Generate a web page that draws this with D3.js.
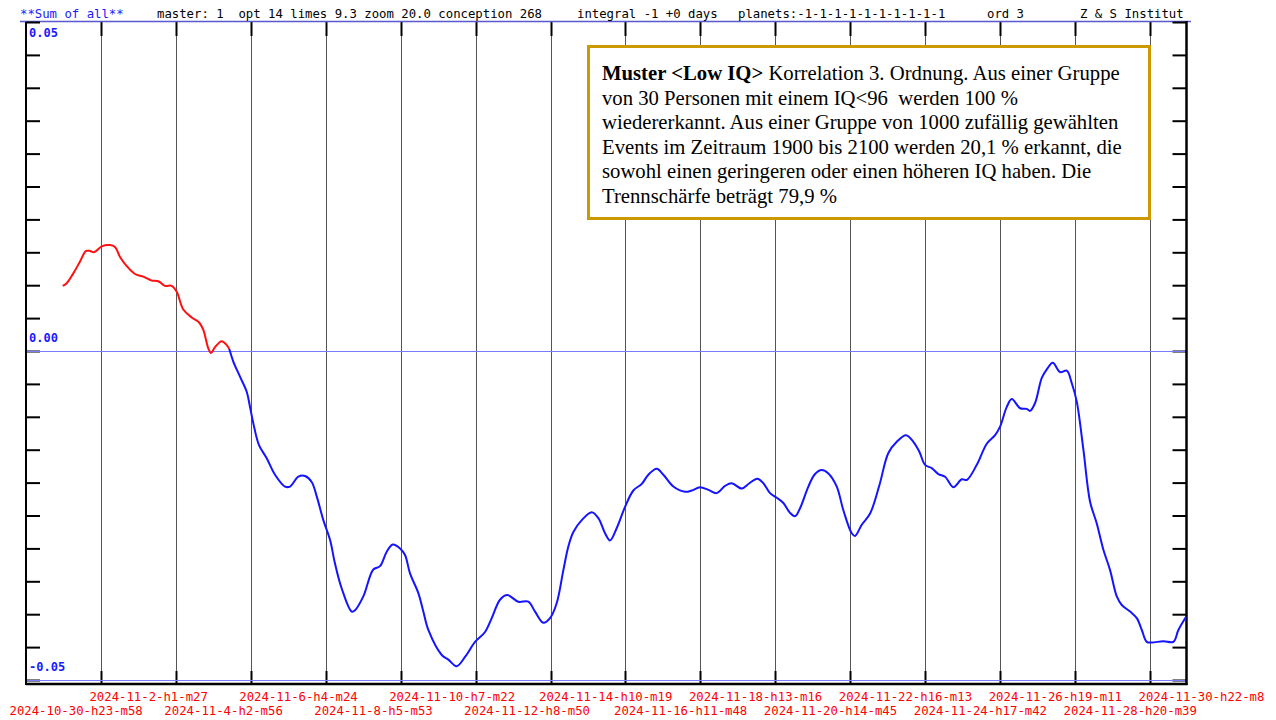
<!DOCTYPE html>
<html>
<head>
<meta charset="utf-8">
<script src="https://cdn.jsdelivr.net/npm/d3@7"></script>
<style>
  html, body { margin: 0; padding: 0; background: #fff; }
  svg { display: block; }
  .mono { font-family: "DejaVu Sans Mono", "Liberation Mono", monospace; white-space: pre; }
</style>
</head>
<body>
<svg id="chart" width="1276" height="720"></svg>
<script>
// time axis: days since 2024-10-30 23:58, one grid step = 49h29m
const stepDays = 2969 / 1440;
const tickLabels = [
  "2024-10-30-h23-m58", "2024-11-2-h1-m27", "2024-11-4-h2-m56", "2024-11-6-h4-m24",
  "2024-11-8-h5-m53", "2024-11-10-h7-m22", "2024-11-12-h8-m50", "2024-11-14-h10-m19",
  "2024-11-16-h11-m48", "2024-11-18-h13-m16", "2024-11-20-h14-m45", "2024-11-22-h16-m13",
  "2024-11-24-h17-m42", "2024-11-26-h19-m11", "2024-11-28-h20-m39", "2024-11-30-h22-m8"
];
const yLabelValues = [0.05, 0, -0.05];
const yLabelTexts  = ["0.05", "0.00", "-0.05"];

// red part of the curve (days, value)
const redDays = [1.010, 1.120, 1.302, 1.486, 1.651, 1.761, 1.871, 2.083, 2.311, 2.449,
  2.587, 2.771, 2.999, 3.228, 3.459, 3.640, 3.825, 4.009, 4.147, 4.328,
  4.559, 4.769, 4.879, 5.016, 5.090, 5.201, 5.385, 5.523, 5.594];
const redVals = [0.0099, 0.0103, 0.0118, 0.0136, 0.0152, 0.0152, 0.0150, 0.0159, 0.0161, 0.0158,
  0.0143, 0.0129, 0.0117, 0.0113, 0.0107, 0.0106, 0.0099, 0.0099, 0.0090, 0.0063,
  0.0051, 0.0043, 0.0032, 0.0004, -0.0003, 0.0006, 0.0015, 0.0009, 0.0003];

// blue part of the curve
const blueDays = [5.594, 5.704, 5.888, 6.073, 6.164, 6.255, 6.411, 6.623, 6.851, 7.127,
  7.264, 7.493, 7.677, 7.861, 7.999, 8.181, 8.365, 8.502, 8.687, 8.962,
  9.053, 9.281, 9.556, 9.741, 9.925, 10.090, 10.291, 10.429, 10.566, 10.795,
  10.932, 11.070, 11.439, 11.620, 11.851, 12.080, 12.355, 12.630, 12.814, 13.043,
  13.244, 13.546, 13.821, 14.006, 14.234, 14.418, 14.603, 14.785, 14.922, 15.060,
  15.291, 15.566, 15.748, 15.932, 16.069, 16.254, 16.482, 16.711, 16.942, 17.123,
  17.354, 17.536, 17.811, 18.133, 18.317, 18.546, 18.774, 19.005, 19.234, 19.418,
  19.693, 19.903, 20.123, 20.288, 20.472, 20.656, 20.838, 21.022, 21.160, 21.297,
  21.526, 21.710, 21.895, 22.076, 22.307, 22.489, 22.720, 22.811, 22.995, 23.224,
  23.480, 23.727, 23.958, 24.214, 24.415, 24.580, 24.737, 24.921, 25.103, 25.287,
  25.516, 25.747, 25.884, 26.160, 26.435, 26.663, 26.801, 26.985, 27.123, 27.351,
  27.535, 27.626, 27.764, 27.948, 28.086, 28.251, 28.452, 28.636, 28.774, 28.911,
  29.093, 29.277, 29.461, 29.643, 29.827, 30.012, 30.149, 30.378, 30.562, 30.700,
  30.837, 30.975, 31.294, 31.569, 31.707, 31.919];
const blueVals = [0.0003, -0.0016, -0.0039, -0.0062, -0.0085, -0.0110, -0.0143, -0.0163, -0.0188, -0.0206,
  -0.0206, -0.0191, -0.0190, -0.0199, -0.0221, -0.0257, -0.0287, -0.0323, -0.0361, -0.0396,
  -0.0394, -0.0373, -0.0332, -0.0327, -0.0305, -0.0294, -0.0300, -0.0310, -0.0338, -0.0368,
  -0.0396, -0.0424, -0.0462, -0.0469, -0.0479, -0.0465, -0.0442, -0.0427, -0.0406, -0.0378,
  -0.0371, -0.0381, -0.0381, -0.0396, -0.0413, -0.0406, -0.0383, -0.0333, -0.0297, -0.0275,
  -0.0257, -0.0245, -0.0254, -0.0277, -0.0288, -0.0269, -0.0237, -0.0212, -0.0202, -0.0188,
  -0.0179, -0.0188, -0.0206, -0.0214, -0.0212, -0.0207, -0.0211, -0.0216, -0.0205, -0.0201,
  -0.0209, -0.0201, -0.0194, -0.0201, -0.0216, -0.0223, -0.0231, -0.0246, -0.0251, -0.0239,
  -0.0206, -0.0187, -0.0181, -0.0186, -0.0206, -0.0242, -0.0277, -0.0281, -0.0264, -0.0247,
  -0.0204, -0.0155, -0.0138, -0.0128, -0.0138, -0.0153, -0.0173, -0.0178, -0.0187, -0.0191,
  -0.0207, -0.0195, -0.0196, -0.0173, -0.0141, -0.0128, -0.0115, -0.0085, -0.0073, -0.0087,
  -0.0088, -0.0091, -0.0079, -0.0041, -0.0028, -0.0018, -0.0032, -0.0030, -0.0049, -0.0077,
  -0.0150, -0.0229, -0.0262, -0.0302, -0.0333, -0.0373, -0.0386, -0.0396, -0.0406, -0.0424,
  -0.0442, -0.0443, -0.0441, -0.0442, -0.0424, -0.0404];

const headerItems = [
  { x: 20,   text: "**Sum of all**", color: "#1a1aff" },
  { x: 157,  text: "master: 1  opt 14 limes 9.3 zoom 20.0 conception 268", color: "#000" },
  { x: 577,  text: "integral -1 +0 days", color: "#000" },
  { x: 738,  text: "planets:-1-1-1-1-1-1-1-1-1-1", color: "#000" },
  { x: 987,  text: "ord 3", color: "#000" },
  { x: 1080, text: "Z & S Institut", color: "#000" }
];

const noteLines = [
  [["Muster <Low IQ>", true], [" Korrelation 3. Ordnung. Aus einer Gruppe", false]],
  [["von 30 Personen mit einem IQ<96\u00a0 werden 100 %", false]],
  [["wiedererkannt. Aus einer Gruppe von 1000 zufällig gewählten", false]],
  [["Events im Zeitraum 1900 bis 2100 werden 20,1 % erkannt, die", false]],
  [["sowohl einen geringeren oder einen höheren IQ haben. Die", false]],
  [["Trennschärfe beträgt 79,9 %", false]]
];

const svg = d3.select("#chart");
const padL = 26, padR = 1186.5, padT = 22, padB = 684;

const x = d3.scaleLinear().domain([0, 31.93]).range([padL, padR]);
const y = d3.scaleLinear().domain([-0.05, 0.05]).range([680, padT]);

const gridDays = tickLabels.map((_, i) => i * stepDays);

// vertical grid lines
svg.append("g").selectAll("line")
  .data(gridDays.slice(1))
  .join("line")
    .attr("x1", d => Math.round(x(d)) + 0.5)
    .attr("x2", d => Math.round(x(d)) + 0.5)
    .attr("y1", padT).attr("y2", padB)
    .attr("stroke", "#555").attr("stroke-width", 1);

// short heavy ticks top and bottom of grid lines
["top", "bottom"].forEach(side => {
  svg.append("g").selectAll("line")
    .data(gridDays.slice(1))
    .join("line")
      .attr("x1", d => Math.round(x(d)) + 0.5)
      .attr("x2", d => Math.round(x(d)) + 0.5)
      .attr("y1", side === "top" ? padT : padB - 13)
      .attr("y2", side === "top" ? padT + 14 : padB)
      .attr("stroke", "#000").attr("stroke-width", 2);
});

svg.append("line")
  .attr("x1", 20).attr("x2", 1191)
  .attr("y1", padT - 0.5).attr("y2", padT - 0.5)
  .attr("stroke", "#5a5ad0").attr("stroke-width", 1.5);

// y ticks both sides
const yTicks = y.ticks(20);
svg.append("g")
  .attr("transform", `translate(${padL},0)`)
  .call(d3.axisRight(y).tickValues(yTicks).tickSize(14).tickFormat(""))
  .call(g => g.select(".domain").remove())
  .call(g => g.selectAll("line").attr("stroke", "#000").attr("stroke-width", 2));
svg.append("g")
  .attr("transform", `translate(${padR},0)`)
  .call(d3.axisLeft(y).tickValues(yTicks).tickSize(14).tickFormat(""))
  .call(g => g.select(".domain").remove())
  .call(g => g.selectAll("line").attr("stroke", "#000").attr("stroke-width", 2));

// horizontal blue reference lines (0 and -0.05)
svg.append("g").selectAll("line")
  .data([0, -0.05])
  .join("line")
    .attr("x1", padL + 1).attr("x2", padR - 1)
    .attr("y1", d => Math.round(y(d)) + 0.5)
    .attr("y2", d => Math.round(y(d)) + 0.5)
    .attr("stroke", "#7b7bff").attr("stroke-width", 1);

// frame
svg.append("line").attr("x1", padL).attr("x2", padL).attr("y1", padT).attr("y2", padB + 1)
  .attr("stroke", "#000").attr("stroke-width", 2);
svg.append("line").attr("x1", padR).attr("x2", padR).attr("y1", padT - 1).attr("y2", padB + 1)
  .attr("stroke", "#000").attr("stroke-width", 2.5);

// bottom axis with two-row labels
const xAxis = svg.append("g")
  .attr("transform", `translate(0,${padB})`)
  .call(d3.axisBottom(x).tickValues(gridDays).tickSize(0)
    .tickFormat((d, i) => tickLabels[i]));
xAxis.select(".domain")
  .attr("d", `M${padL},0H${padR + 1}`)
  .attr("stroke", "#000").attr("stroke-width", 2.5);
xAxis.selectAll("text")
  .attr("class", "mono")
  .attr("fill", "#ff0000")
  .attr("font-size", 12.3)
  .attr("text-anchor", "start")
  .attr("dx", (d, i) => i === 0 ? -17 : -12)
  .attr("y", (d, i) => i % 2 === 1 ? 17 : 31)
  .attr("dy", 0);

// y value labels
svg.append("g").selectAll("text")
  .data(yLabelValues)
  .join("text")
    .attr("class", "mono")
    .attr("x", 29)
    .attr("y", (d, i) => i === 0 ? y(d) + 15 : y(d) - 9.5)
    .attr("fill", "#1a1aff")
    .attr("font-size", 12)
    .attr("font-weight", "bold")
    .text((d, i) => yLabelTexts[i]);

// header
svg.append("g").selectAll("text")
  .data(headerItems)
  .join("text")
    .attr("class", "mono")
    .attr("x", d => d.x)
    .attr("y", 18)
    .attr("font-size", 12.3)
    .attr("fill", d => d.color)
    .text(d => d.text);

// curve
const line = d3.line()
  .x(d => x(d[0]))
  .y(d => y(d[1]))
  .curve(d3.curveCatmullRom.alpha(0.5));

svg.append("path")
  .datum(redDays.map((d, i) => [d, redVals[i]]))
  .attr("d", line)
  .attr("fill", "none").attr("stroke", "#ff1010").attr("stroke-width", 2);
svg.append("path")
  .datum(blueDays.map((d, i) => [d, blueVals[i]]))
  .attr("d", line)
  .attr("fill", "none").attr("stroke", "#1414ff").attr("stroke-width", 2);

// note box
svg.append("rect")
  .attr("x", 588.5).attr("y", 46.5)
  .attr("width", 561).attr("height", 172)
  .attr("fill", "#fff")
  .attr("stroke", "#cc9900").attr("stroke-width", 3);

const note = svg.append("g")
  .attr("font-family", "'Liberation Serif', 'Times New Roman', serif")
  .attr("font-size", 20)
  .attr("fill", "#000");

noteLines.forEach((parts, i) => {
  const t = note.append("text")
    .attr("x", 602)
    .attr("y", 80 + i * 24.5)
    .style("white-space", "pre");
  parts.forEach(([txt, bold]) => {
    t.append("tspan").attr("font-weight", bold ? "bold" : "normal").text(txt);
  });
});

// fit font size so the first line spans like the original (602 -> 1120)
const firstLen = note.select("text").node().getComputedTextLength();
note.attr("font-size", 20 * 518 / firstLen);
</script>
</body>
</html>
